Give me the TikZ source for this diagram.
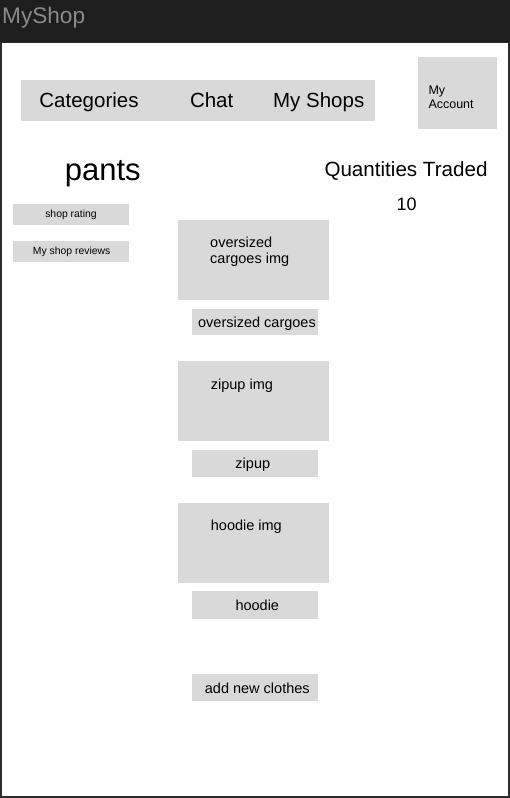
\documentclass[tikz,border=0pt]{standalone}
\usepackage{fontspec}
\setmainfont{Liberation Sans}
\usetikzlibrary{positioning}
\definecolor{headerdark}{RGB}{30,30,30}
\definecolor{framedark}{RGB}{45,45,45}
\definecolor{boxgray}{RGB}{217,217,217}
\definecolor{titlegray}{RGB}{138,138,138}

\begin{document}
\begin{tikzpicture}[x=1pt,y=-1pt,
    greybox/.style={fill=boxgray,inner sep=0pt,anchor=north west},
    navtext/.style={font=\fontsize{20.5}{24}\selectfont,anchor=base},
    smalltext/.style={font=\fontsize{10.4}{12}\selectfont,anchor=base},
    itemtext/.style={font=\fontsize{14.5}{16}\selectfont,anchor=base west,align=left,inner sep=0pt},
    labeltext/.style={font=\fontsize{14.5}{16}\selectfont,anchor=base}]
    \useasboundingbox (0,0) rectangle (510,798);
    % Finestra
    \fill[framedark] (0,0) rectangle (510,798);
    \fill[headerdark] (0,0) rectangle (510,42);
    \fill[white] (2,43) rectangle (508,796);
    \node[titlegray,font=\fontsize{22.6}{26}\selectfont,anchor=base west,inner sep=0pt] (title) at (2,23.3) {MyShop};
    % Barra di navigazione
    \node[greybox,minimum width=354pt,minimum height=41pt] (navbar) at (21,80) {};
    \node[navtext] (categories) at (89,107.7) {Categories};
    \node[navtext] (chat) at (211.7,107.7) {Chat};
    \node[navtext] (myshops) at (318.7,107.7) {My Shops};
    % Account
    \node[greybox,minimum width=79pt,minimum height=72pt] (accountbox) at (418,57) {};
    \node[itemtext,font=\fontsize{12.5}{14}\selectfont] (account) at (428.3,108.3) {My\\Account};
    % Intestazione negozio
    \node[font=\fontsize{31}{34}\selectfont,anchor=base] (pants) at (102.8,180) {pants};
    \node[font=\fontsize{20.6}{24}\selectfont,anchor=base] (traded) at (406,176) {Quantities Traded};
    \node[font=\fontsize{18}{22}\selectfont,anchor=base] (tradednum) at (406.7,210) {10};
    % Pulsanti laterali
    \node[greybox,minimum width=116pt,minimum height=21pt] (ratingbox) at (13,204) {};
    \node[smalltext] (rating) at (71,217) {shop rating};
    \node[greybox,minimum width=116pt,minimum height=21pt] (reviewsbox) at (13,241) {};
    \node[smalltext] (reviews) at (71.7,254.3) {My shop reviews};
    % Prodotti
    \node[greybox,minimum width=151pt,minimum height=80pt] (cargoesimg) at (178,219.3) {};
    \node[itemtext] (cargoesimgtext) at (210,263.3) {oversized\\cargoes img};
    \node[greybox,minimum width=125.5pt,minimum height=26.7pt] (cargoesbox) at (192,308.3) {};
    \node[labeltext] (cargoes) at (257,327.7) {oversized cargoes};
    \node[greybox,minimum width=151pt,minimum height=80pt] (zipupimg) at (178,361) {};
    \node[itemtext] (zipupimgtext) at (210.7,389) {zipup img};
    \node[greybox,minimum width=125.5pt,minimum height=27.4pt] (zipupbox) at (192,449.3) {};
    \node[labeltext] (zipup) at (252.8,468.3) {zipup};
    \node[greybox,minimum width=151pt,minimum height=80pt] (hoodieimg) at (178,502.7) {};
    \node[itemtext] (hoodieimgtext) at (210.7,530) {hoodie img};
    \node[greybox,minimum width=125.5pt,minimum height=27.3pt] (hoodiebox) at (192,591) {};
    \node[labeltext] (hoodie) at (257.3,610) {hoodie};
    % Nuovo articolo
    \node[greybox,minimum width=125.5pt,minimum height=27.7pt] (addbox) at (192,673.3) {};
    \node[labeltext] (addclothes) at (257.3,693.3) {add new clothes};
\end{tikzpicture}
\end{document}
